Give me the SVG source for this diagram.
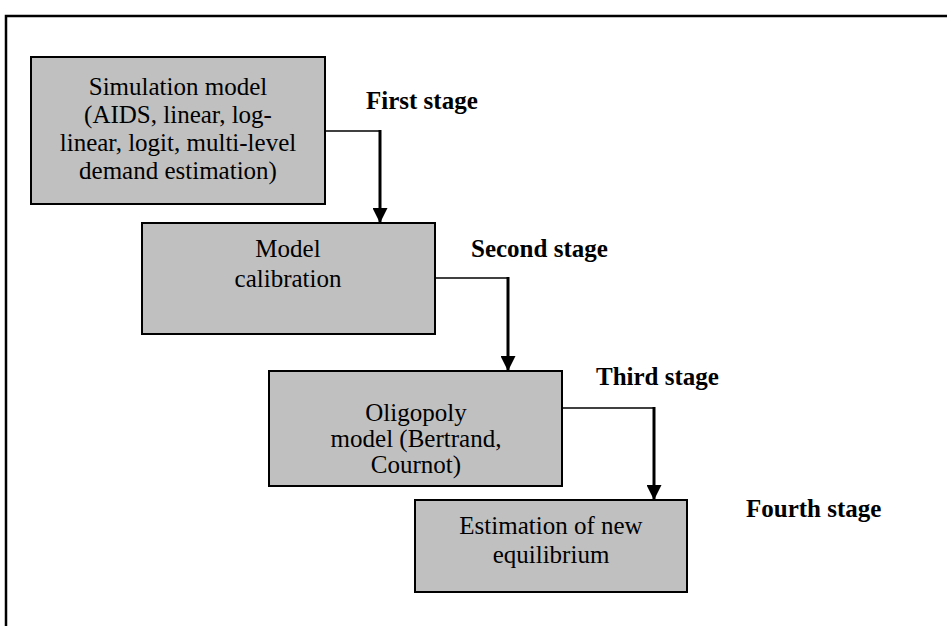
<svg xmlns="http://www.w3.org/2000/svg" width="947" height="626" viewBox="0 0 947 626">
<defs>
<style>
.box{fill:#c0c0c0;stroke:#000;stroke-width:2}
.t{font-family:'Liberation Serif','DejaVu Serif',serif;font-size:25px;fill:#000;text-anchor:middle}
.lbl{font-family:'Liberation Serif','DejaVu Serif',serif;font-size:25px;font-weight:bold;fill:#000}
.thin{fill:none;stroke:#000;stroke-width:1.4}
.thick{fill:none;stroke:#000;stroke-width:3}
</style>
<marker id="ah" viewBox="0 0 10 10" refX="10" refY="5" markerWidth="5" markerHeight="5" markerUnits="strokeWidth" orient="auto">
<path d="M0,0 L10,5 L0,10 Z" fill="#000"/>
</marker>
</defs>
<rect width="947" height="626" fill="#fff"/>
<path d="M6,630 L6,16 L950,16" fill="none" stroke="#000" stroke-width="2.5"/>
<g id="connectors">
<path class="thin" d="M325,131 L380,131"/>
<path class="thick" d="M380,130 L380,223" marker-end="url(#ah)"/>
<path class="thin" d="M435,278 L508,278"/>
<path class="thick" d="M508,277 L508,371" marker-end="url(#ah)"/>
<path class="thin" d="M562,408 L654,408"/>
<path class="thick" d="M654,407 L654,500" marker-end="url(#ah)"/>
</g>
<g id="node1">
<rect class="box" x="31" y="57" width="294" height="147"/>
<text class="t" x="178" y="95">Simulation model</text>
<text class="t" x="178" y="123">(AIDS, linear, log-</text>
<text class="t" x="178" y="151">linear, logit, multi-level</text>
<text class="t" x="178" y="179">demand estimation)</text>
</g>
<g id="node2">
<rect class="box" x="142" y="223" width="293" height="111"/>
<text class="t" x="288" y="257">Model</text>
<text class="t" x="288" y="287">calibration</text>
</g>
<g id="node3">
<rect class="box" x="269" y="371" width="293" height="115"/>
<text class="t" x="416" y="421">Oligopoly</text>
<text class="t" x="416" y="447">model (Bertrand,</text>
<text class="t" x="416" y="473">Cournot)</text>
</g>
<g id="node4">
<rect class="box" x="415" y="500" width="272" height="92"/>
<text class="t" x="551" y="534">Estimation of new</text>
<text class="t" x="551" y="563">equilibrium</text>
</g>
<g id="labels">
<text class="lbl" x="366" y="109">First stage</text>
<text class="lbl" x="471" y="257">Second stage</text>
<text class="lbl" x="596" y="385">Third stage</text>
<text class="lbl" x="746" y="517">Fourth stage</text>
</g>
</svg>
